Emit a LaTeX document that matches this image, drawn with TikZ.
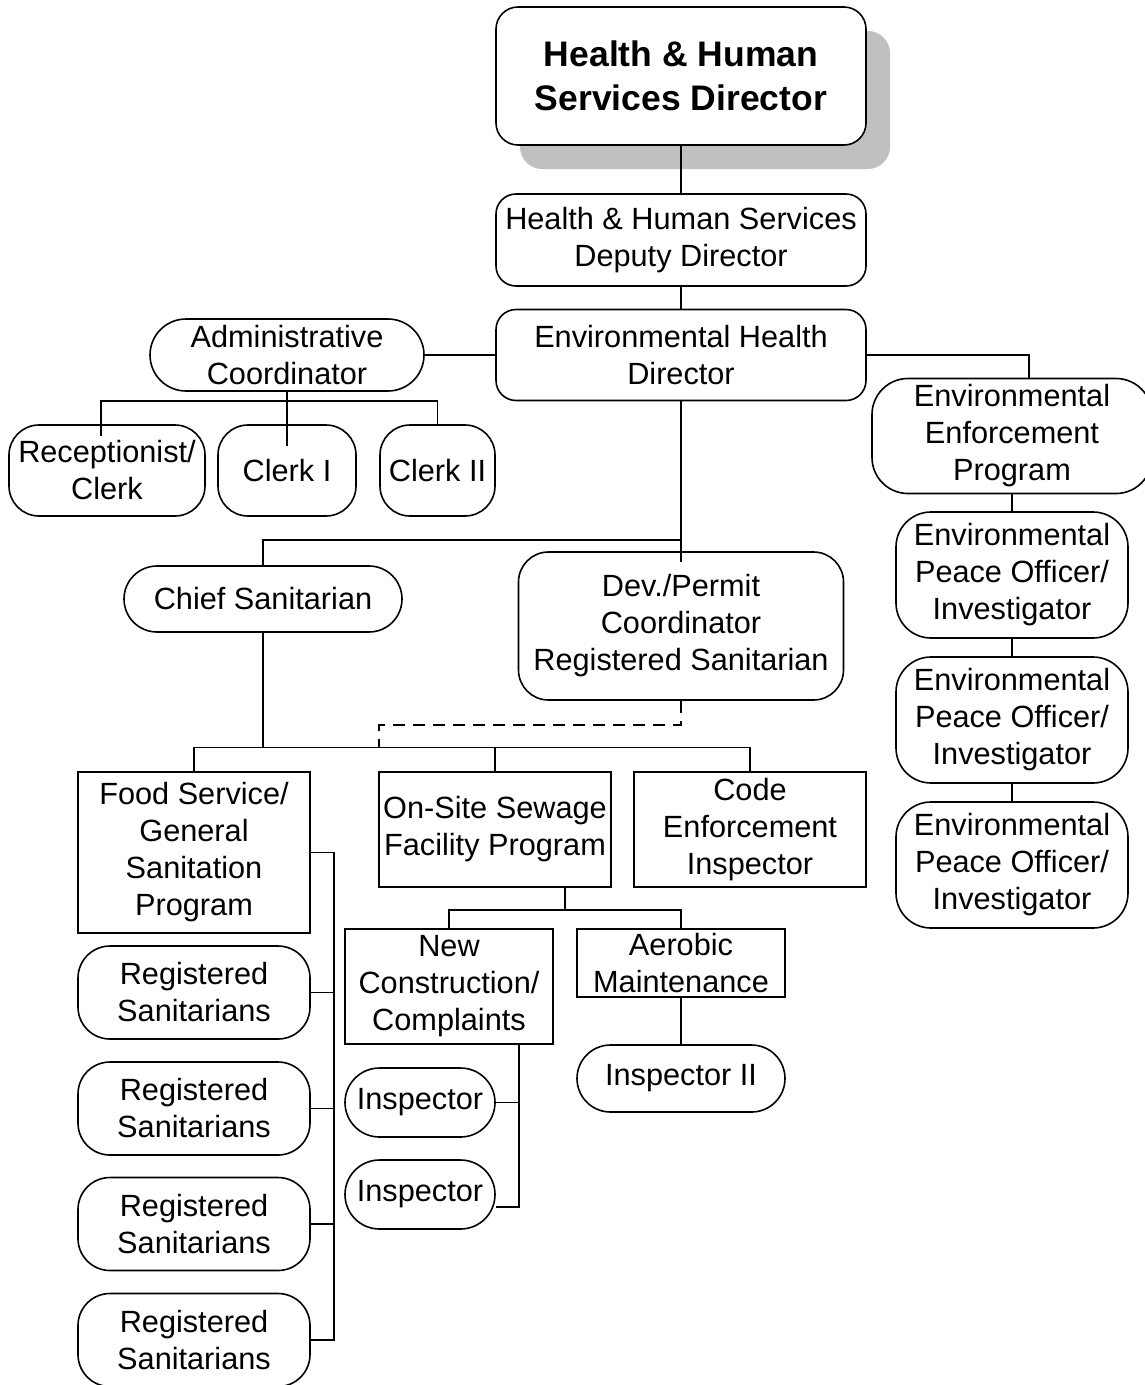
\documentclass[tikz,border=0pt]{standalone}
\usepackage{fontspec}
\setmainfont{Liberation Sans}
\usetikzlibrary{shadows}
\definecolor{shadowgray}{HTML}{C0C0C0}
\begin{document}
\begin{tikzpicture}[x=1pt,y=-1pt,line width=1.6pt]
\tikzset{post/.style={draw,align=center,inner sep=0pt,font=\fontsize{30.7}{37}\selectfont},
dims/.style 2 args={minimum width=#1pt,minimum height=#2pt},
soft/.style={rounded corners=#1},
dashline/.style={dash pattern=on 12pt off 8pt}}
\useasboundingbox (0,0) rectangle (1144,1385);
\node[post,dims={370}{138},soft=22pt,fill=white,
  drop shadow={shadow xshift=24pt,shadow yshift=-24pt,opacity=1,fill=shadowgray},
  font=\fontsize{35.5}{44}\selectfont\bfseries] (hhsd) at (681,76) {Health \& Human\\Services Director};
\node[post,dims={370}{92},soft=20pt] (deputy) at (681,240) {Health \& Human Services\\Deputy Director};
\node[post,dims={370}{91},soft=20pt] (ehd) at (681,355) {Environmental Health\\Director};
\node[post,dims={274}{72},soft=36pt] (admin) at (287,355) {Administrative\\Coordinator};
\node[post,dims={196}{91},soft=30pt] (recep) at (107,470.5) {Receptionist/\\Clerk};
\node[post,dims={138}{91},soft=30pt] (clerka) at (287,470.5) {Clerk I};
\node[post,dims={115}{91},soft=30pt] (clerkb) at (437.5,470.5) {Clerk II};
\node[post,dims={280}{115},soft=36pt] (eep) at (1012,436) {Environmental\\Enforcement\\Program};
\foreach \i/\y in {1/575,2/720,3/865}
  \node[post,dims={232}{126},soft=35pt] (epo\i) at (1012,\y) {Environmental\\Peace Officer/\\Investigator};
\node[post,dims={278}{66},soft=33pt] (chief) at (263,599) {Chief Sanitarian};
\node[post,dims={325}{148},soft=30pt] (dev) at (681,626) {Dev./Permit\\Coordinator\\Registered Sanitarian};
\node[post,dims={232}{161}] (food) at (194,852.5) {Food Service/\\General\\Sanitation\\Program};
\node[post,dims={232}{115}] (onsite) at (495,829.5) {On-Site Sewage\\Facility Program};
\node[post,dims={232}{115}] (code) at (750,829.5) {Code\\Enforcement\\Inspector};
\foreach \i/\y in {1/992.5,2/1108.5,3/1224,4/1340}
  \node[post,dims={232}{93},soft=32pt] (rs\i) at (194,\y) {Registered\\Sanitarians};
\node[post,dims={208}{115}] (newc) at (449,986.5) {New\\Construction/\\Complaints};
\node[post,dims={208}{68}] (aerobic) at (681,963) {Aerobic\\Maintenance};
\node[post,dims={208}{67},soft=33.5pt] (insp2) at (681,1078.5) {Inspector II};
\node[post,dims={150}{69},soft=34.5pt] (inspa) at (420,1102.5) {Inspector};
\node[post,dims={150}{69},soft=34.5pt] (inspb) at (420,1194.5) {Inspector};
\coordinate (ehdbar) at (681,540);
\coordinate (unitbar) at (263,747.5);
\coordinate (dashbend) at (379,725);
\coordinate (sewbar) at (565,910);
\draw (hhsd.south) -- (deputy.north);
\draw (deputy.south) -- (ehd.north);
\draw (admin.east) -- (ehd.west);
\draw (admin.south) -- ([yshift=-22pt]clerka.north);
\draw ([xshift=-6pt,yshift=-12pt]recep.north) -- ++(0,-35) -| (clerkb.north);
\draw (ehd.east) -| ([xshift=17pt]eep.north);
\draw (eep.south) -- (epo1.north) (epo1.south) -- (epo2.north) (epo2.south) -- (epo3.north);
\draw (ehd.south) -- ([yshift=-11pt]dev.north);
\draw (ehdbar) -| (chief.north);
\draw (chief.south) -- (unitbar);
\draw (food.north) |- (unitbar) -| (code.north);
\draw (onsite.north) -- (onsite.north |- unitbar);
\draw[dashline] (dev.south) |- (dashbend) -- (dashbend |- unitbar);
\draw (food.east) -- ++(23,0) |- (rs4.east);
\foreach \i in {1,2,3} \draw (rs\i.east) -- ++(23,0);
\draw ([xshift=70pt]onsite.south) -- (sewbar);
\draw (newc.north) |- (sewbar) -| (aerobic.north);
\draw (aerobic.south) -- (insp2.north);
\draw ([xshift=70pt]newc.south) |- ([yshift=-12.5pt]inspb.east);
\draw (inspa.east) -- ++(24,0);
\end{tikzpicture}
\end{document}
